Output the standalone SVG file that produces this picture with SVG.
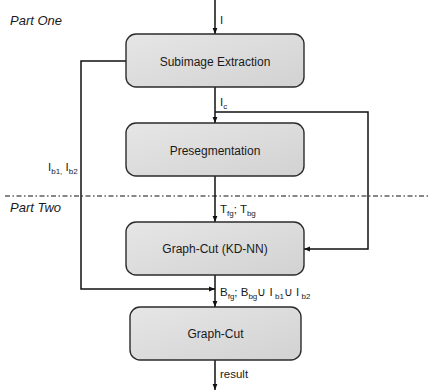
<svg xmlns="http://www.w3.org/2000/svg" width="428" height="390" viewBox="0 0 428 390">
<style>
text{font-family:"Liberation Sans",Arial,sans-serif;fill:#1a1a1a}
.box{stroke:#2b2b2b;stroke-width:1.4;fill:url(#g)}
.lbl{font-size:12px;text-anchor:middle}
.sm{font-size:11.5px}
.part{font-size:13px;font-style:italic}
.ln{fill:none;stroke:#111;stroke-width:1.5}
</style>
<defs>
<linearGradient id="g" x1="0" y1="0" x2="1" y2="1">
<stop offset="0" stop-color="#e6e6e6"/>
<stop offset="1" stop-color="#d2d2d2"/>
</linearGradient>
<marker id="a" viewBox="0 0 10 10" refX="10" refY="5" markerWidth="6" markerHeight="6" markerUnits="userSpaceOnUse" orient="auto">
<path d="M0,1 L10,5 L0,9 z" fill="#111"/>
</marker>
</defs>
<rect width="428" height="390" fill="#fff"/>
<text class="part" x="10" y="25">Part One</text>
<text class="part" x="10" y="212">Part Two</text>
<line x1="5" y1="196" x2="428" y2="196" stroke="#111" stroke-width="1.2" stroke-dasharray="5 2.5 1.5 2.5"/>
<g id="connectors">
<line class="ln" x1="215" y1="0" x2="215" y2="34" marker-end="url(#a)"/>
<line class="ln" x1="215" y1="87" x2="215" y2="123" marker-end="url(#a)"/>
<polyline class="ln" points="215,112 368,112 368,249 304,249" marker-end="url(#a)"/>
<line class="ln" x1="215" y1="176" x2="215" y2="222" marker-end="url(#a)"/>
<polyline class="ln" points="126,61 81,61 81,289 215,289" marker-end="url(#a)"/>
<line class="ln" x1="215" y1="275" x2="215" y2="307" marker-end="url(#a)"/>
<line class="ln" x1="215" y1="360" x2="215" y2="390" marker-end="url(#a)"/>
</g>
<g id="n1"><rect class="box" x="126" y="34" width="178" height="53" rx="10"/><text class="lbl" x="215" y="65.5">Subimage Extraction</text></g>
<g id="n2"><rect class="box" x="126" y="123" width="178" height="53" rx="10"/><text class="lbl" x="215" y="154.5">Presegmentation</text></g>
<g id="n3"><rect class="box" x="126" y="222" width="178" height="53" rx="10"/><text class="lbl" x="215" y="253">Graph-Cut (KD-NN)</text></g>
<g id="n4"><rect class="box" x="130" y="307" width="171" height="53" rx="10"/><text class="lbl" x="215.5" y="338">Graph-Cut</text></g>
<g id="labels">
<text class="sm" x="220" y="24">I</text>
<text class="sm" x="220" y="106">I<tspan font-size="8" dy="3">c</tspan></text>
<text class="sm" x="220" y="213">T<tspan font-size="8" dy="3">fg</tspan><tspan dy="-3">; T</tspan><tspan font-size="8" dy="3">bg</tspan></text>
<text class="sm" x="220" y="296">B<tspan font-size="8" dy="3">fg</tspan><tspan dy="-3">; B</tspan><tspan font-size="8" dy="3">bg</tspan><tspan dy="-3">∪ I</tspan><tspan font-size="8" dy="3"> b1</tspan><tspan dy="-3">∪ I</tspan><tspan font-size="8" dy="3"> b2</tspan></text>
<text class="sm" x="48" y="171">I<tspan font-size="8" dy="3">b1,</tspan><tspan dy="-3"> I</tspan><tspan font-size="8" dy="3">b2</tspan></text>
<text class="sm" x="220" y="378">result</text>
</g>
</svg>
